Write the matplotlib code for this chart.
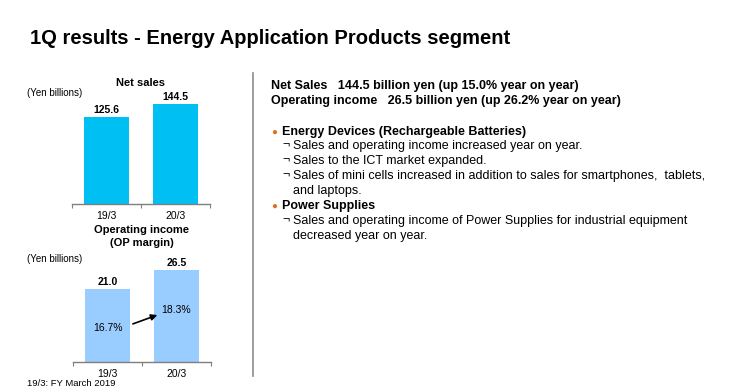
import matplotlib
matplotlib.use("Agg")
import matplotlib.pyplot as plt

plt.rcParams['font.family'] = ['Liberation Sans', 'DejaVu Sans']

# data
periods = ['19/3', '20/3']
net_sales = [125.6, 144.5]
op_income = [21.0, 26.5]
op_margin = [16.7, 18.3]

W, H = 750, 390

def fx(px):
    return px / W

def fy(py):
    return 1 - py / H

fig = plt.figure(figsize=(7.5, 3.9), dpi=100, facecolor='white')

# title
fig.text(fx(30), fy(38), '1Q results - Energy Application Products segment',
         fontsize=14.5, fontweight='bold', va='center', ha='left')


def bar_panel(rect, values, color, top):
    ax = fig.add_axes(rect)
    x = range(len(values))
    bars = ax.bar(x, values, width=0.64, color=color)
    ax.set_xlim(-0.5, 1.5)
    ax.set_ylim(0, top)
    for s in ['left', 'right', 'top']:
        ax.spines[s].set_visible(False)
    ax.spines['bottom'].set_color('#7f7f7f')
    ax.spines['bottom'].set_linewidth(1.0)
    ax.set_yticks([])
    ax.set_xticks([-0.5, 0.5, 1.5])
    ax.set_xticklabels([])
    ax.tick_params(axis='x', direction='out', length=3, color='#7f7f7f')
    ax.set_xticks(list(x), minor=True)
    ax.set_xticklabels(periods, minor=True, fontsize=7.5)
    ax.tick_params(axis='x', which='minor', length=0, pad=5)
    for b, v in zip(bars, values):
        ax.annotate(f'{v:.1f}', xy=(b.get_x() + b.get_width() / 2, v),
                    xytext=(0, 1.5), textcoords='offset points',
                    ha='center', va='bottom', fontsize=7.5, fontweight='bold')
    return ax

# net sales panel
ax1 = bar_panel([fx(72), fy(204), fx(138), 110 / H], net_sales, '#00BFF3',
                net_sales[1] * 110 / 100)
fig.text(fx(141), fy(83), 'Net sales', fontsize=8, fontweight='bold', ha='center', va='center')
fig.text(fx(27), fy(93), '(Yen billions)', fontsize=7, ha='left', va='center')

# operating income panel
ax2 = bar_panel([fx(73), fy(362), fx(138), 100 / H], op_income, '#99CCFF',
                op_income[1] * 100 / 92)
fig.text(fx(142), fy(230), 'Operating income', fontsize=8, fontweight='bold', ha='center', va='center')
fig.text(fx(142), fy(243), '(OP margin)', fontsize=8, fontweight='bold', ha='center', va='center')
fig.text(fx(27), fy(259), '(Yen billions)', fontsize=7, ha='left', va='center')

ax2.text(0, 9.8, f'{op_margin[0]:.1f}%', ha='center', va='center', fontsize=7.5)
ax2.text(1, 15.0, f'{op_margin[1]:.1f}%', ha='center', va='center', fontsize=7.5)
ax2.annotate('', xy=(0.76, 13.8), xytext=(0.33, 10.7),
             arrowprops=dict(arrowstyle='-|>', color='black', lw=1.2, mutation_scale=9))

fig.text(fx(27), fy(384), '19/3: FY March 2019', fontsize=6.8, ha='left', va='center')

# separator
fig.add_artist(plt.Line2D([fx(253), fx(253)], [fy(73), fy(376)], color='#8c8c8c', lw=1.2))

# right side text
fs = 9
fig.text(fx(271), fy(86), 'Net Sales   144.5 billion yen (up 15.0% year on year)',
         fontsize=fs, fontweight='bold', va='center')
fig.text(fx(271), fy(101), 'Operating income   26.5 billion yen (up 26.2% year on year)',
         fontsize=fs, fontweight='bold', va='center')

bullets = [
    (132, 'Energy Devices (Rechargeable Batteries)'),
    (206, 'Power Supplies'),
]
for y, t in bullets:
    fig.text(fx(274), fy(y), '\u25cf', fontsize=7, color='#E07020', va='center', ha='center')
    fig.text(fx(282), fy(y), t, fontsize=fs, fontweight='bold', va='center')

subs = [
    (146, True, 'Sales and operating income increased year on year.'),
    (161, True, 'Sales to the ICT market expanded.'),
    (176, True, 'Sales of mini cells increased in addition to sales for smartphones,  tablets,'),
    (191, False, 'and laptops.'),
    (221, True, 'Sales and operating income of Power Supplies for industrial equipment'),
    (236, False, 'decreased year on year.'),
]
for y, mark, t in subs:
    if mark:
        fig.text(fx(282), fy(y), '\u00ac', fontsize=fs, va='center')
    fig.text(fx(293), fy(y), t, fontsize=fs, va='center')

fig.savefig('out.png', dpi=100, facecolor='white')
